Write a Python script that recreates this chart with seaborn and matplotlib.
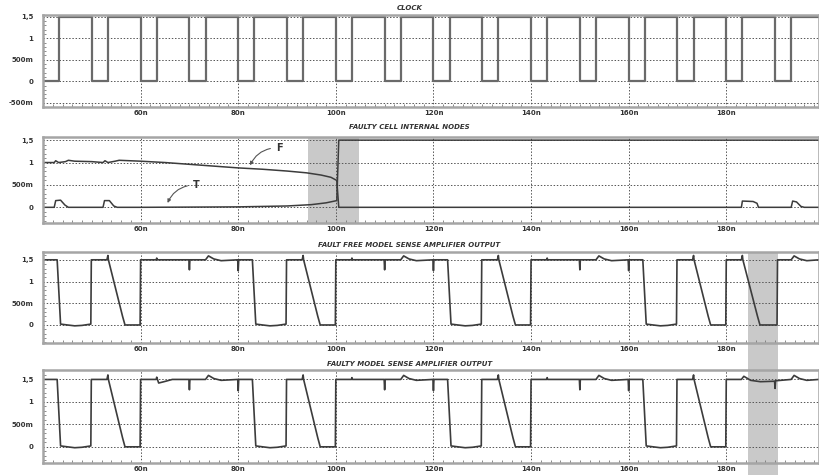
import matplotlib
matplotlib.use("Agg")
import pandas as pd
import matplotlib.pyplot as plt
from matplotlib.patches import Rectangle
from matplotlib.ticker import MultipleLocator
import seaborn as sns

# time window in ns
T_START, T_END = 40, 199

titles = ["CLOCK", "FAULTY CELL INTERNAL NODES",
          "FAULT FREE MODEL SENSE AMPLIFIER OUTPUT", "FAULTY MODEL SENSE AMPLIFIER OUTPUT"]
xticks = [60, 80, 100, 120, 140, 160, 180]
xtick_labels = ["60n", "80n", "100n", "120n", "140n", "160n", "180n"]
yticks_clock = [-0.5, 0, 0.5, 1, 1.5]
ylabels_clock = ["-500m", "0", "500m", "1", "1,5"]
yticks = [0, 0.5, 1, 1.5]
ylabels = ["0", "500m", "1", "1,5"]

# clock edges (ns), 0 -> 1.5 V
clock_rise = [43.3, 53.3, 63.3, 73.3, 83.3, 93.3, 103.3, 113.3,
              123.3, 133.3, 143.3, 153.3, 163.3, 173.3, 183.3, 193.3]
clock_fall = [50, 60, 70, 80, 90, 100, 110, 120, 130, 140, 150, 160, 170, 180, 190]

# faulty cell internal nodes (t ns, V)
node_F = [(40, 1.0), (42.3, 1.0), (42.6, 1.04), (43.2, 1.0), (44.6, 1.02), (45.2, 1.05),
          (46.5, 1.03), (50, 1.02), (52.3, 1.0), (52.7, 1.04), (53.3, 1.0), (54.8, 1.03),
          (55.6, 1.05), (60, 1.03), (65, 1.0), (70, 0.96), (75, 0.92), (80, 0.88),
          (85, 0.85), (90, 0.81), (94, 0.77), (97, 0.72), (99, 0.67), (100.2, 0.6),
          (100.6, 0.0), (183.1, 0.0), (183.3, 0.14), (185.5, 0.13), (186.3, 0.09),
          (186.6, 0.0), (193.3, 0.0), (193.6, 0.14), (194.4, 0.12), (195.3, 0.02),
          (196, 0.0), (199, 0.0)]
node_T = [(40, 0.0), (42.3, 0.0), (42.6, 0.15), (43.6, 0.16), (44.5, 0.05), (45.2, 0.0),
          (52.3, 0.0), (52.6, 0.15), (53.6, 0.15), (54.5, 0.03), (55.2, 0.0), (60, 0.0),
          (80, 0.01), (90, 0.03), (95, 0.06), (98, 0.1), (100.2, 0.15), (100.6, 1.5),
          (199, 1.5)]

# sense amplifier outputs (t ns, V)
sa_fault_free = [
    (40, 1.5), (42.9, 1.5), (43.6, 0.02), (45, 0.0), (46.5, -0.02), (48, -0.01), (49.8, 0.02),
    (49.9, 1.5), (53.1, 1.5), (53.3, 1.6), (53.4, 1.5), (56.3, 0.2), (56.8, 0.0), (59.9, 0.0),
    (60.0, 1.5), (63.2, 1.5), (63.3, 1.54), (63.4, 1.5), (69.9, 1.5), (70.0, 1.27), (70.1, 1.5),
    (73.3, 1.5), (73.9, 1.59), (75.0, 1.52), (76.5, 1.48), (79.9, 1.5), (80.0, 1.25), (80.1, 1.5),
    (82.9, 1.5), (83.6, 0.02), (85, 0.0), (86.5, -0.02), (88, -0.01), (89.8, 0.02),
    (89.9, 1.5), (93.1, 1.5), (93.3, 1.6), (93.4, 1.5), (96.3, 0.2), (96.8, 0.0), (99.9, 0.0),
    (100.0, 1.5), (103.2, 1.5), (103.3, 1.54), (103.4, 1.5), (109.9, 1.5), (110.0, 1.27), (110.1, 1.5),
    (113.3, 1.5), (113.9, 1.59), (115.0, 1.52), (116.5, 1.48), (119.9, 1.5), (120.0, 1.25), (120.1, 1.5),
    (122.9, 1.5), (123.6, 0.02), (125, 0.0), (126.5, -0.02), (128, -0.01), (129.8, 0.02),
    (129.9, 1.5), (133.1, 1.5), (133.3, 1.6), (133.4, 1.5), (136.3, 0.2), (136.8, 0.0), (139.9, 0.0),
    (140.0, 1.5), (143.2, 1.5), (143.3, 1.54), (143.4, 1.5), (149.9, 1.5), (150.0, 1.27), (150.1, 1.5),
    (153.3, 1.5), (153.9, 1.59), (155.0, 1.52), (156.5, 1.48), (159.9, 1.5), (160.0, 1.25), (160.1, 1.5),
    (162.9, 1.5), (163.6, 0.02), (165, 0.0), (166.5, -0.02), (168, -0.01), (169.8, 0.02),
    (169.9, 1.5), (173.1, 1.5), (173.3, 1.6), (173.4, 1.5), (176.3, 0.2), (176.8, 0.0), (179.9, 0.0),
    (180.0, 1.5), (183.1, 1.5), (183.3, 1.6), (183.4, 1.5), (186.4, 0.2), (186.9, 0.0), (190.4, 0.0),
    (190.5, 1.5), (193.3, 1.5), (193.9, 1.59), (195.0, 1.52), (196.5, 1.48), (199, 1.5)]
sa_faulty = [
    (40, 1.5), (42.9, 1.5), (43.6, 0.02), (45, 0.0), (46.5, -0.02), (48, -0.01), (49.8, 0.02),
    (49.9, 1.5), (53.1, 1.5), (53.3, 1.6), (53.4, 1.5), (56.3, 0.2), (56.8, 0.0), (59.9, 0.0),
    (60.0, 1.5), (63.2, 1.5), (63.3, 1.55), (63.7, 1.42), (64.8, 1.45), (66.5, 1.5), (69.9, 1.5),
    (70.0, 1.27), (70.1, 1.5),
    (73.3, 1.5), (73.9, 1.59), (75.0, 1.52), (76.5, 1.48), (79.9, 1.5), (80.0, 1.25), (80.1, 1.5),
    (82.9, 1.5), (83.6, 0.02), (85, 0.0), (86.5, -0.02), (88, -0.01), (89.8, 0.02),
    (89.9, 1.5), (93.1, 1.5), (93.3, 1.6), (93.4, 1.5), (96.3, 0.2), (96.8, 0.0), (99.9, 0.0),
    (100.0, 1.5), (103.2, 1.5), (103.3, 1.54), (103.4, 1.5), (109.9, 1.5), (110.0, 1.27), (110.1, 1.5),
    (113.3, 1.5), (113.9, 1.59), (115.0, 1.52), (116.5, 1.48), (119.9, 1.5), (120.0, 1.25), (120.1, 1.5),
    (122.9, 1.5), (123.6, 0.02), (125, 0.0), (126.5, -0.02), (128, -0.01), (129.8, 0.02),
    (129.9, 1.5), (133.1, 1.5), (133.3, 1.6), (133.4, 1.5), (136.3, 0.2), (136.8, 0.0), (139.9, 0.0),
    (140.0, 1.5), (143.2, 1.5), (143.3, 1.54), (143.4, 1.5), (149.9, 1.5), (150.0, 1.27), (150.1, 1.5),
    (153.3, 1.5), (153.9, 1.59), (155.0, 1.52), (156.5, 1.48), (159.9, 1.5), (160.0, 1.25), (160.1, 1.5),
    (162.9, 1.5), (163.6, 0.02), (165, 0.0), (166.5, -0.02), (168, -0.01), (169.8, 0.02),
    (169.9, 1.5), (173.1, 1.5), (173.3, 1.6), (173.4, 1.5), (176.3, 0.2), (176.8, 0.0), (179.9, 0.0),
    (180.0, 1.5), (183.1, 1.5), (183.6, 1.57), (185, 1.48), (187, 1.45), (189.9, 1.46),
    (190.0, 1.3), (190.1, 1.47), (193.3, 1.5), (193.9, 1.59), (195.0, 1.52), (196.5, 1.48), (199, 1.5)]

flip_window = (94.3, 104.7)   # shaded in the internal nodes panel
read_window = (184.4, 190.6)  # shaded across both sense amp panels

# layout in pixels (top, bottom) and y limits per panel
panel_px = [(15, 107), (137, 223), (252, 343), (370, 463)]
panel_ylim = [(-0.6, 1.54), (-0.35, 1.57), (-0.415, 1.68), (-0.36, 1.71)]
title_px = [8, 127, 245, 364]
W, H = 819, 475
LEFT_PX = 43


def step_series(rise, fall, lo=0.0, hi=1.5):
    # turn edge times into a square wave
    edges = sorted([(t, hi) for t in rise] + [(t, lo) for t in fall])
    pts = [(T_START, lo)]
    level = lo
    for t, new in edges:
        pts.append((t, level))
        pts.append((t, new))
        level = new
    pts.append((T_END, level))
    return pd.DataFrame(pts, columns=["t", "v"])


def to_df(pairs):
    return pd.DataFrame(pairs, columns=["t", "v"])


sns.set_theme(style="white")
plt.rcParams["font.family"] = ["DejaVu Sans"]

fig = plt.figure(figsize=(W / 100, H / 100), dpi=100)
fig.patch.set_facecolor("white")

axes = []
for (top, bot), ylim in zip(panel_px, panel_ylim):
    ax = fig.add_axes([LEFT_PX / W, 1 - bot / H, (W - LEFT_PX) / W, (bot - top) / H])
    ax.set_facecolor("none")
    ax.set_xlim(T_START, T_END)
    ax.set_ylim(*ylim)
    axes.append(ax)

line_col = "#3c3c3c"
sns.lineplot(data=step_series(clock_rise, clock_fall), x="t", y="v", sort=False,
             estimator=None, ax=axes[0], color="#6a6a6a", linewidth=1.6)
sns.lineplot(data=to_df(node_F), x="t", y="v", sort=False, estimator=None,
             ax=axes[1], color=line_col, linewidth=1.1)
sns.lineplot(data=to_df(node_T), x="t", y="v", sort=False, estimator=None,
             ax=axes[1], color=line_col, linewidth=1.1)
sns.lineplot(data=to_df(sa_fault_free), x="t", y="v", sort=False, estimator=None,
             ax=axes[2], color=line_col, linewidth=1.2)
sns.lineplot(data=to_df(sa_faulty), x="t", y="v", sort=False, estimator=None,
             ax=axes[3], color=line_col, linewidth=1.2)

# highlight windows
axes[1].axvspan(*flip_window, color="#c9c9c9", zorder=0, lw=0)
x0 = axes[2].transData.transform((read_window[0], 0))[0] / fig.bbox.width
x1 = axes[2].transData.transform((read_window[1], 0))[0] / fig.bbox.width
fig.add_artist(Rectangle((x0, 0), x1 - x0, 1 - panel_px[2][0] / H,
                         transform=fig.transFigure, color="#c9c9c9", lw=0, zorder=-1))

for i, ax in enumerate(axes):
    ax.set_xlabel("")
    ax.set_ylabel("")
    ax.set_xticks(xticks)
    ax.set_xticklabels(xtick_labels)
    if i == 0:
        ax.set_yticks(yticks_clock)
        ax.set_yticklabels(ylabels_clock)
    else:
        ax.set_yticks(yticks)
        ax.set_yticklabels(ylabels)
    ax.xaxis.set_minor_locator(MultipleLocator(2))
    ax.yaxis.set_minor_locator(MultipleLocator(0.1))
    ax.tick_params(which="major", length=0, labelsize=5, pad=2)
    ax.tick_params(axis="y", which="major", pad=7)
    ax.tick_params(which="minor", direction="in", length=2.2, width=0.6, color="#777777",
                   bottom=True, left=True)
    for lab in ax.get_xticklabels() + ax.get_yticklabels():
        lab.set_fontweight("bold")
        lab.set_color("#333333")
    ax.grid(True, which="major", color="#555555", linestyle=(0, (1.5, 1.8)), linewidth=0.7)
    for sp in ax.spines.values():
        sp.set_color("#a5a5a5")
        sp.set_linewidth(1.8)
    fig.text(0.5, 1 - title_px[i] / H, titles[i], ha="center", va="center",
             fontsize=5, fontweight="bold", fontstyle="italic", color="#333333")

# node labels with curved arrows
arrow = dict(arrowstyle="-|>", color="#555555", lw=0.8, mutation_scale=5,
             connectionstyle="arc3,rad=0.35")
axes[1].annotate("F", xy=(82.2, 0.88), xytext=(88.5, 1.33), fontsize=7, fontweight="bold",
                 color="#333333", arrowprops=arrow, ha="center", va="center")
axes[1].annotate("T", xy=(65.3, 0.04), xytext=(71.5, 0.5), fontsize=7, fontweight="bold",
                 color="#333333", arrowprops=arrow, ha="center", va="center")

fig.savefig("out.png", dpi=100)
